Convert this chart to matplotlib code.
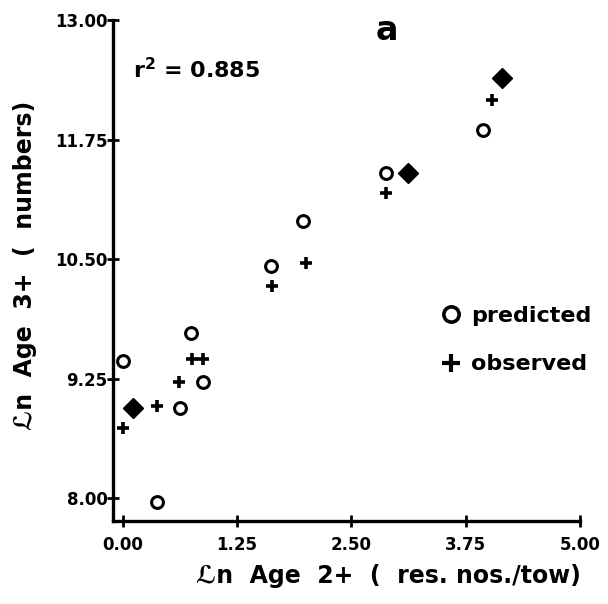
import matplotlib
matplotlib.use("Agg")
import matplotlib.pyplot as plt
from matplotlib.lines import Line2D

# Data
pred_x = [0.00, 0.38, 0.63, 0.75, 0.88, 1.62, 1.97, 2.88, 3.94]
pred_y = [9.43, 7.96, 8.94, 9.73, 9.21, 10.43, 10.90, 11.40, 11.85]

obs_x = [0.00, 0.38, 0.62, 0.76, 0.88, 1.63, 2.01, 2.88, 4.04]
obs_y = [8.73, 8.96, 9.21, 9.45, 9.45, 10.22, 10.46, 11.19, 12.16]

both_x = [0.11, 3.12, 4.15]
both_y = [8.94, 11.40, 12.39]

xticks = [0.00, 1.25, 2.50, 3.75, 5.00]
yticks = [8.00, 9.25, 10.50, 11.75, 13.00]
xtick_labels = ["0.00", "1.25", "2.50", "3.75", "5.00"]
ytick_labels = ["8.00", "9.25", "10.50", "11.75", "13.00"]

plt.rcParams['font.family'] = ['DejaVu Sans']
plt.rcParams['font.weight'] = 'bold'

fig = plt.figure(figsize=(6.08, 6.04), dpi=100)
ax = fig.add_axes([113/608, 1-521/604, (580-113)/608, (521-20)/604])

ax.plot(pred_x, pred_y, linestyle='none', marker='o', markersize=8.5,
        markerfacecolor='none', markeredgecolor='black', markeredgewidth=2.2)
ax.plot(obs_x, obs_y, linestyle='none', marker='+', markersize=8,
        markeredgecolor='black', markeredgewidth=2.6)
ax.plot(both_x, both_y, linestyle='none', marker='D', markersize=10.5,
        markerfacecolor='black', markeredgecolor='black')

ax.set_xlim(-0.105, 5.0)
ax.set_ylim(7.76, 13.0)
ax.set_xticks(xticks)
ax.set_xticklabels(xtick_labels)
ax.set_yticks(yticks)
ax.set_yticklabels(ytick_labels)

for s in ['top', 'right']:
    ax.spines[s].set_visible(False)
for s in ['left', 'bottom']:
    ax.spines[s].set_linewidth(2.4)

ax.tick_params(axis='both', direction='inout', length=8, width=2,
               labelsize=12)
ax.tick_params(axis='y', pad=0)
ax.tick_params(axis='x', pad=7)
for lab in ax.get_xticklabels() + ax.get_yticklabels():
    lab.set_fontweight('bold')

ax.set_xlabel("ℒn  Age  2+  (  res. nos./tow)", fontsize=17, fontweight='bold')
ax.set_ylabel("ℒn  Age  3+  (  numbers)", fontsize=17, fontweight='bold')
ax.xaxis.set_label_coords(0.59, -0.085)
ax.yaxis.set_label_coords(-0.163, 0.511)

ax.text(133/608, 1-70/604, "r$^2$ = 0.885", transform=fig.transFigure,
        fontsize=16, fontweight='bold', va='center', ha='left')
ax.text(387/608, 1-30/604, "a", transform=fig.transFigure,
        fontsize=24, fontweight='bold', va='center', ha='center')

handles = [
    Line2D([], [], linestyle='none', marker='o', markersize=11,
           markerfacecolor='none', markeredgecolor='black', markeredgewidth=2.6),
    Line2D([], [], linestyle='none', marker='+', markersize=13,
           markeredgecolor='black', markeredgewidth=3.0),
]
fig.legend(handles, ["predicted", "observed"], loc='center left',
           bbox_to_anchor=(422/608, 1-340/604), frameon=False,
           prop={'size': 16, 'weight': 'bold'}, handlelength=0.8,
           handletextpad=0.5, labelspacing=1.3)

fig.savefig("out.png", dpi=100)
